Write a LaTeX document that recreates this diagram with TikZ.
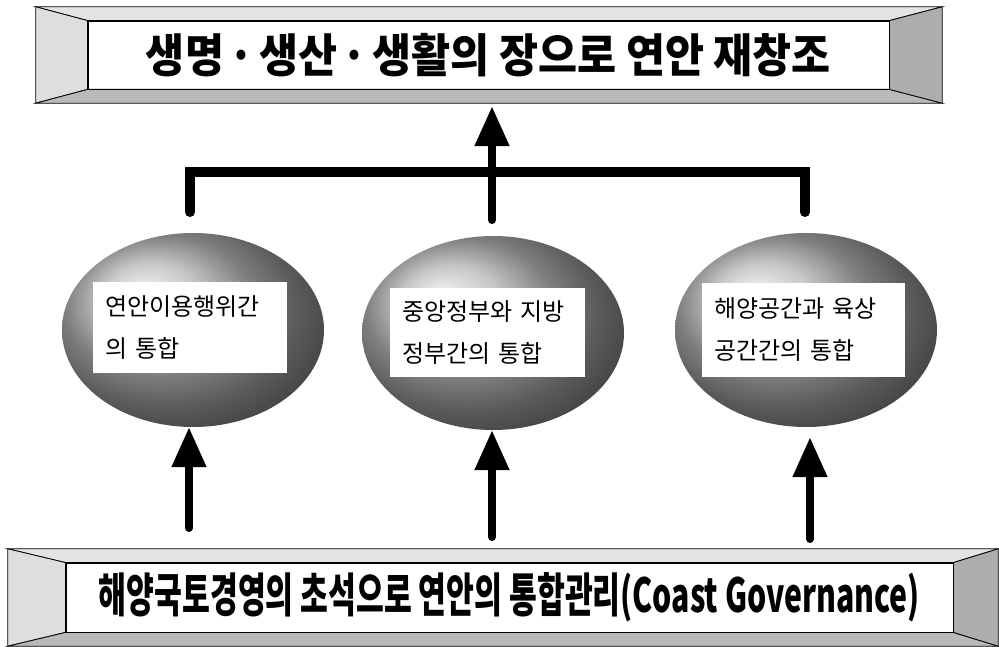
\documentclass[tikz,border=0pt]{standalone}
\usepackage{graphicx}
\usepackage{fontspec}
\newfontfamily\cjk{Noto Sans CJK KR}
\usetikzlibrary{shapes.geometric,arrows.meta}
\begin{document}
\begin{tikzpicture}[x=1pt,y=-1pt,
  innerbox/.style={rectangle, inner sep=0pt, fill=white, draw=black, line width=0.8pt},
  bevlight/.style={fill=gray!22, draw=black, line width=0.8pt, line join=miter},
  bevleft/.style={fill=gray!26, draw=black, line width=0.8pt, line join=miter},
  bevbottom/.style={fill=gray!55, draw=black, line width=0.8pt, line join=miter},
  bevright/.style={fill=gray!64, draw=black, line width=0.8pt, line join=miter},
  outerbox/.style={rectangle, inner sep=0pt, draw=none},
  orb/.style={ellipse, inner sep=0pt, minimum width=262pt, minimum height=194pt, ball color=gray!58},
  tagbox/.style={rectangle, fill=white, inner xsep=12pt, inner ysep=0pt, align=left,
                 font=\cjk\fontsize{24}{42}\selectfont},
  linkbar/.style={line width=10pt, line cap=round, line join=miter},
  upar/.style={line width=8pt, line cap=round, -{Triangle[width=33pt,length=40pt]}},
  titlefont/.style={font=\cjk\bfseries\fontsize{46}{46}\selectfont},
  basefont/.style={font=\cjk\bfseries\fontsize{47}{47}\selectfont}
]
\useasboundingbox (0,0) rectangle (999,647);

% ---------- top banner ----------
\node[outerbox, minimum width=906pt, minimum height=96pt] (topO) at (489,55) {};
\node[innerbox, minimum width=801pt, minimum height=68pt, titlefont] (topI) at (488.5,55)
  {\resizebox{685pt}{\height}{생명\hspace{5pt}·\hspace{5pt}생산\hspace{5pt}·\hspace{5pt}생활의 장으로 연안 재창조}};
\filldraw[bevlight] (topO.north west) -- (topO.north east) -- (topI.north east) -- (topI.north west) -- cycle;
\filldraw[bevleft] (topO.north west) -- (topI.north west) -- (topI.south west) -- (topO.south west) -- cycle;
\filldraw[bevbottom] (topO.south west) -- (topI.south west) -- (topI.south east) -- (topO.south east) -- cycle;
\filldraw[bevright] (topO.north east) -- (topO.south east) -- (topI.south east) -- (topI.north east) -- cycle;

% ---------- bottom banner ----------
\node[outerbox, minimum width=990pt, minimum height=97pt] (botO) at (503,597.5) {};
\node[innerbox, minimum width=887pt, minimum height=69pt, basefont] (botI) at (509.5,597.5)
  {\resizebox{821pt}{\height}{해양국토경영의 초석으로 연안의 통합관리(Coast Governance)}};
\filldraw[bevlight] (botO.north west) -- (botO.north east) -- (botI.north east) -- (botI.north west) -- cycle;
\filldraw[bevleft] (botO.north west) -- (botI.north west) -- (botI.south west) -- (botO.south west) -- cycle;
\filldraw[bevbottom] (botO.south west) -- (botI.south west) -- (botI.south east) -- (botO.south east) -- cycle;
\filldraw[bevright] (botO.north east) -- (botO.south east) -- (botI.south east) -- (botI.north east) -- cycle;

% ---------- orbs ----------
\node[orb] (e1) at (193,330) {};
\node[orb] (e2) at (493,333) {};
\node[orb] (e3) at (806,330) {};
\node[tagbox, text width=170pt, minimum height=91pt] (t1) at (190,327.5) {연안이용행위간\\의 통합};
\node[tagbox, text width=171pt, minimum height=89pt] (t2) at (487.5,332.5) {중앙정부와 지방\\정부간의 통합};
\node[tagbox, text width=179pt, minimum height=94pt] (t3) at (803.5,330) {해양공간과 육상\\공간간의 통합};

% ---------- upper connectors ----------
\coordinate (lb) at (190,212);
\coordinate (rb) at (805,212);
\coordinate (jl) at (190,172);
\coordinate (jr) at (805,172);
\draw[linkbar] (lb) -- (jl) -- (jr) -- (rb);
\coordinate (m) at (492,220);
\draw[upar, shorten >=3pt] (m) -- (m |- topO.south);

% ---------- lower arrows ----------
\coordinate (b1) at (189,528);
\coordinate (b2) at (492,537);
\coordinate (b3) at (810,539);
\draw[upar] (b1) -- (b1 |- e1.south);
\draw[upar] (b2) -- (b2 |- e2.south);
\draw[upar, shorten >=10pt] (b3) -- (b3 |- e3.south);
\end{tikzpicture}
\end{document}
